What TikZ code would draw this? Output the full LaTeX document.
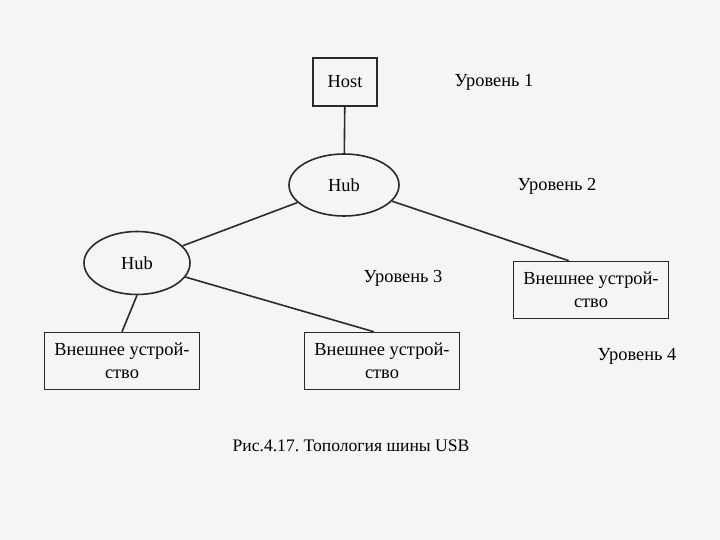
\documentclass[tikz,border=0pt]{standalone}
\usepackage{fontspec}
\setmainfont{Liberation Serif}
\usepackage{tikz}
\usetikzlibrary{shapes.geometric}
\definecolor{ink}{HTML}{2A2A2A}
\definecolor{paper}{HTML}{F5F5F3}
\frenchspacing

\begin{document}
\begin{tikzpicture}[x=1pt,y=-1pt,line width=1.6pt,
    font=\fontsize{18.4}{23}\selectfont,
    devbox/.style={draw=ink,rectangle,minimum width=155pt,minimum height=57pt,align=center,inner sep=2pt},
    hubnode/.style={draw=ink,ellipse,minimum width=110pt,minimum height=62pt,inner sep=0pt}]
  \fill[paper] (0,0) rectangle (720,540);
  \useasboundingbox (0,0) rectangle (720,540);
  % nodes
  \node[draw=ink,minimum width=64pt,minimum height=48pt] (host) at (345,82) {Host};
  \node[hubnode] (hubtop) at (344,185) {Hub};
  \node[hubnode,minimum width=106pt,minimum height=63pt] (hubleft) at (137,263) {Hub};
  \node[devbox] (devright) at (591,290) {Внешнее устрой-\\ство};
  \node[devbox] (devleft) at (122,361) {Внешнее устрой-\\ство};
  \node[devbox] (devmid) at (382,361) {Внешнее устрой-\\ство};
  % levels
  \node (lvlone) at (494,82) {Уровень 1};
  \node (lvltwo) at (557,186) {Уровень 2};
  \node (lvlthree) at (403,278) {Уровень 3};
  \node (lvlfour) at (637,356) {Уровень 4};
  \node[font=\fontsize{17.6}{22}\selectfont] (caption) at (351,446) {Рис.4.17. Топология шины USB};
  % links
  \draw[ink] (host) -- (hubtop);
  \draw[ink] (hubtop) -- (hubleft);
  \draw[ink] (hubtop) -- ([xshift=56]devright.north west);
  \draw[ink] (hubleft.south) -- (devleft.north);
  \draw[ink] (hubleft) -- ([xshift=70]devmid.north west);
\end{tikzpicture}
\end{document}
